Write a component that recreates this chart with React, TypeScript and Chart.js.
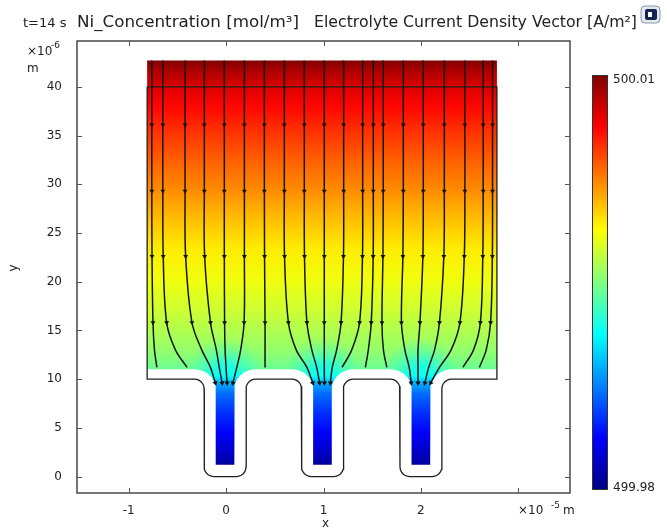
import React, { useEffect, useRef } from 'react';
import { Chart, registerables } from 'chart.js';

Chart.register(...registerables);

// ---------------- data ----------------
const timeLabel = 't=14 s';
const titleField = 'Ni_Concentration [mol/m\u00b3]';
const titleVector = 'Electrolyte Current Density Vector [A/m\u00b2]';

// concentration colour range (mol/m^3)
const concMin = 499.98;
const concMax = 500.01;

// concentration profile along the height (y in 1e-6 m)
const profileY = [1.2, 2.5, 4.5, 6.5, 8.5, 9.5, 10.3, 11, 13, 17, 20, 23.5, 26.5, 29.5, 32, 35, 38, 40, 41.5, 42.7];
const profileConc = [
  499.9809, 499.9821, 499.9836, 499.9851, 499.9869, 499.9887, 499.9914, 499.9944, 499.9956, 499.99725,
  499.9983, 499.99935, 500.0007, 500.0022, 500.00325, 500.0046, 500.0061, 500.0073, 500.0085, 500.01,
];
// concentration at the trench openings (cyan funnels)
const funnelConc = 499.9917;

// geometry (x in 1e-5 m, y in 1e-6 m)
const domainLeft = -0.81;
const domainRight = 2.78;
const domainTop = 42.7;
const inletLineY = 40;
const electrolyteBottom = 11;
const electrodeY = 10;
const trenchCenters = [-0.01, 0.99, 2.0];
const channelHalfWidth = 0.095;
const channelBottom = 1.2;
const trenchHalfWidth = 0.215;

// current density streamlines: x positions at each y level
const streamLevels = [42.7, 36.1, 29.3, 22.6, 15.8, 13.0, 11.2];
const arrowLevels = [36.1, 29.3, 22.6, 15.8];
const streamX = [
  [-0.762, -0.762, -0.762, -0.76, -0.75, -0.735, -0.71],
  [-0.649, -0.649, -0.649, -0.645, -0.61, -0.52, -0.4],
  [-0.421, -0.421, -0.421, -0.415, -0.35, -0.25, -0.16],
  [-0.223, -0.223, -0.223, -0.22, -0.16, -0.1, -0.07],
  [-0.018, -0.018, -0.018, -0.018, -0.015, -0.01, 0.0],
  [0.188, 0.188, 0.188, 0.188, 0.185, 0.15, 0.11],
  [0.393, 0.393, 0.393, 0.395, 0.4, 0.4, 0.4],
  [0.598, 0.598, 0.598, 0.6, 0.64, 0.72, 0.83],
  [0.803, 0.803, 0.803, 0.805, 0.83, 0.88, 0.93],
  [1.008, 1.008, 1.008, 1.008, 1.008, 1.008, 1.008],
  [1.207, 1.207, 1.207, 1.205, 1.18, 1.135, 1.09],
  [1.402, 1.402, 1.402, 1.4, 1.37, 1.29, 1.19],
  [1.511, 1.511, 1.511, 1.51, 1.49, 1.46, 1.43],
  [1.613, 1.613, 1.613, 1.61, 1.6, 1.615, 1.65],
  [1.819, 1.819, 1.819, 1.815, 1.8, 1.835, 1.88],
  [2.024, 2.024, 2.024, 2.02, 1.99, 1.97, 1.97],
  [2.24, 2.24, 2.24, 2.235, 2.19, 2.14, 2.08],
  [2.451, 2.451, 2.451, 2.445, 2.4, 2.31, 2.19],
  [2.639, 2.639, 2.639, 2.635, 2.61, 2.54, 2.43],
  [2.735, 2.735, 2.735, 2.733, 2.715, 2.67, 2.6],
];
const streamEntryX: (number | null)[] = [
  null, null, -0.11, -0.04, 0.01, 0.07, null, 0.89, 0.96, 1.01,
  1.07, null, null, null, 1.9, 1.97, 2.04, 2.1, null, null,
];
const streamEntryY = 9.6;

// axes
const xMin = -1.53;
const xMax = 3.53;
const yMin = -1.69;
const yMax = 44.7;

// ---------------- helpers ----------------
function clamp01(v: number) {
  return Math.max(0, Math.min(1, v));
}
function jet(t: number): [number, number, number] {
  const r = clamp01(Math.min(4 * t - 1.5, -4 * t + 4.5));
  const g = clamp01(Math.min(4 * t - 0.5, -4 * t + 3.5));
  const b = clamp01(Math.min(4 * t + 0.5, -4 * t + 2.5));
  return [r, g, b];
}
function concT(c: number) {
  return (c - concMin) / (concMax - concMin);
}
function rgba(t: number, a = 1) {
  const [r, g, b] = jet(t);
  return `rgba(${Math.round(r * 255)},${Math.round(g * 255)},${Math.round(b * 255)},${a})`;
}
type P = { x: number; y: number };
function arc(cx: number, cy: number, rx: number, ry: number, a0: number, a1: number, n = 10): P[] {
  const pts: P[] = [];
  for (let i = 0; i <= n; i++) {
    const a = ((a0 + ((a1 - a0) * i) / n) * Math.PI) / 180;
    pts.push({ x: cx + rx * Math.cos(a), y: cy + ry * Math.sin(a) });
  }
  return pts;
}

const flareRx = 0.22;
const flareRy = electrolyteBottom - (electrodeY - 1.0);
const cornerRx = 0.1;
const cornerRy = 1.0;

function buildDomain(): P[] {
  const pts: P[] = [
    { x: domainLeft, y: domainTop },
    { x: domainRight, y: domainTop },
    { x: domainRight, y: electrolyteBottom },
  ];
  const cs = [...trenchCenters].reverse();
  cs.forEach((xc) => {
    const cyF = electrolyteBottom - flareRy;
    pts.push(...arc(xc + channelHalfWidth + flareRx, cyF, flareRx, flareRy, 90, 180));
    pts.push({ x: xc + channelHalfWidth, y: channelBottom });
    pts.push({ x: xc - channelHalfWidth, y: channelBottom });
    pts.push(...arc(xc - channelHalfWidth - flareRx, cyF, flareRx, flareRy, 0, 90));
  });
  pts.push({ x: domainLeft, y: electrolyteBottom });
  pts.push({ x: domainLeft, y: domainTop });
  return pts;
}

function buildFunnel(xc: number): P[] {
  const cyF = electrolyteBottom - flareRy;
  const cut = 10.3;
  const a = (Math.asin((cut - cyF) / flareRy) * 180) / Math.PI;
  const pts: P[] = [
    { x: xc - 0.5, y: 15 },
    { x: xc - 0.5, y: electrolyteBottom },
  ];
  pts.push(...arc(xc - channelHalfWidth - flareRx, cyF, flareRx, flareRy, 90, a, 8));
  pts.push(...arc(xc + channelHalfWidth + flareRx, cyF, flareRx, flareRy, 180 - a, 90, 8));
  pts.push({ x: xc + 0.5, y: electrolyteBottom });
  pts.push({ x: xc + 0.5, y: 15 });
  pts.push({ x: xc - 0.5, y: 15 });
  return pts;
}

function buildOutline(): P[] {
  const pts: P[] = [
    { x: domainLeft, y: inletLineY },
    { x: domainLeft, y: electrodeY },
  ];
  trenchCenters.forEach((xc) => {
    const l = xc - trenchHalfWidth;
    const r = xc + trenchHalfWidth;
    pts.push(...arc(l - cornerRx, electrodeY - cornerRy, cornerRx, cornerRy, 90, 0, 6));
    pts.push(...arc(l + cornerRx, cornerRy, cornerRx, cornerRy, 180, 270, 6));
    pts.push(...arc(r - cornerRx, cornerRy, cornerRx, cornerRy, 270, 360, 6));
    pts.push(...arc(r + cornerRx, electrodeY - cornerRy, cornerRx, cornerRy, 180, 90, 6));
  });
  pts.push({ x: domainRight, y: electrodeY });
  pts.push({ x: domainRight, y: inletLineY });
  pts.push({ x: domainLeft, y: inletLineY });
  return pts;
}

const FONT = 'DejaVu Sans';

function fitText(ctx: CanvasRenderingContext2D, text: string, x: number, y: number, w: number) {
  const m = ctx.measureText(text).width;
  ctx.save();
  ctx.translate(x, y);
  ctx.scale(w / m, 1);
  ctx.fillText(text, 0, 0);
  ctx.restore();
}

const decorPlugin = {
  id: 'decor',
  afterDraw(chart: any) {
    const { ctx, chartArea: a, scales } = chart;
    const xs = scales.x;
    const ys = scales.y;
    ctx.save();
    // frame
    ctx.strokeStyle = '#3c3c3c';
    ctx.lineWidth = 1.4;
    ctx.strokeRect(a.left, a.top, a.right - a.left, a.bottom - a.top);
    // inward ticks
    ctx.lineWidth = 1;
    ctx.strokeStyle = '#555';
    ctx.beginPath();
    xs.ticks.forEach((t: any) => {
      const p = Math.round(xs.getPixelForValue(t.value)) + 0.5;
      ctx.moveTo(p, a.bottom);
      ctx.lineTo(p, a.bottom - 5);
      ctx.moveTo(p, a.top);
      ctx.lineTo(p, a.top + 5);
    });
    ys.ticks.forEach((t: any) => {
      const p = Math.round(ys.getPixelForValue(t.value)) + 0.5;
      ctx.moveTo(a.left, p);
      ctx.lineTo(a.left + 5, p);
      ctx.moveTo(a.right, p);
      ctx.lineTo(a.right - 5, p);
    });
    ctx.stroke();

    ctx.fillStyle = '#222';
    ctx.textBaseline = 'alphabetic';
    ctx.textAlign = 'left';
    // x unit label
    ctx.font = `12px "${FONT}"`;
    ctx.fillText('\u00d710', 518, 514);
    ctx.font = `9px "${FONT}"`;
    ctx.fillText('-5', 551, 508);
    ctx.font = `12px "${FONT}"`;
    ctx.fillText('m', 563, 514);
    // y unit label
    ctx.fillText('\u00d710', 27, 55);
    ctx.font = `9px "${FONT}"`;
    ctx.fillText('-6', 51, 48);
    ctx.font = `12px "${FONT}"`;
    ctx.fillText('m', 27, 72);
    // axis titles
    ctx.textAlign = 'center';
    ctx.fillText('x', (a.left + a.right) / 2 + 2, 527);
    ctx.save();
    ctx.translate(17, 268);
    ctx.rotate(-Math.PI / 2);
    ctx.fillText('y', 0, 0);
    ctx.restore();

    // title
    ctx.textAlign = 'left';
    ctx.font = `13px "${FONT}"`;
    ctx.fillText(timeLabel, 23, 27);
    ctx.font = `15px "${FONT}"`;
    fitText(ctx, titleField, 77, 27, 222);
    fitText(ctx, titleVector, 314, 27, 323);

    // icon
    ctx.fillStyle = '#e4e8f0';
    ctx.strokeStyle = '#8a94aa';
    ctx.beginPath();
    ctx.roundRect(641, 6, 19, 17, 4);
    ctx.fill();
    ctx.stroke();
    ctx.fillStyle = '#14224e';
    ctx.beginPath();
    ctx.roundRect(645, 9, 12, 11, 2);
    ctx.fill();
    ctx.fillStyle = '#ffffff';
    ctx.fillRect(648, 12, 4, 5);

    // colour bar
    const cbL = 592, cbR = 608, cbT = 75, cbB = 490;
    const g = ctx.createLinearGradient(0, cbB, 0, cbT);
    [0, 0.125, 0.375, 0.625, 0.875, 1].forEach((s) => g.addColorStop(s, rgba(s)));
    ctx.fillStyle = g;
    ctx.fillRect(cbL, cbT, cbR - cbL, cbB - cbT);
    ctx.strokeStyle = '#333';
    ctx.lineWidth = 1;
    ctx.strokeRect(cbL + 0.5, cbT + 0.5, cbR - cbL - 1, cbB - cbT - 1);
    ctx.fillStyle = '#222';
    ctx.font = `12px "${FONT}"`;
    ctx.textBaseline = 'middle';
    ctx.fillText(concMax.toFixed(2), 613, 80);
    ctx.fillText(concMin.toFixed(2), 613, 488);
    ctx.restore();
  },
};

export default function App() {
  const ref = useRef<HTMLCanvasElement | null>(null);

  useEffect(() => {
    if (!ref.current) return;
    const datasets: any[] = [];

    datasets.push({
      data: buildDomain(),
      fill: 'shape',
      borderColor: 'rgba(0,0,0,0)',
      borderWidth: 0,
      pointRadius: 0,
      tension: 0,
      order: 10,
      backgroundColor: (c: any) => {
        const ch = c.chart;
        const ys = ch.scales && ch.scales.y;
        if (!ch.chartArea || !ys) return 'rgba(0,0,0,0)';
        const y0 = profileY[0];
        const y1 = profileY[profileY.length - 1];
        const g = ch.ctx.createLinearGradient(0, ys.getPixelForValue(y0), 0, ys.getPixelForValue(y1));
        profileY.forEach((y, i) => g.addColorStop((y - y0) / (y1 - y0), rgba(concT(profileConc[i]))));
        return g;
      },
    });

    trenchCenters.forEach((xc) => {
      datasets.push({
        data: buildFunnel(xc),
        fill: 'shape',
        borderColor: 'rgba(0,0,0,0)',
        borderWidth: 0,
        pointRadius: 0,
        tension: 0,
        order: 9,
        backgroundColor: (c: any) => {
          const ch = c.chart;
          const xs = ch.scales && ch.scales.x;
          const ys = ch.scales && ch.scales.y;
          if (!ch.chartArea || !xs || !ys) return 'rgba(0,0,0,0)';
          const px = xs.getPixelForValue(xc);
          const py = ys.getPixelForValue(10.3);
          const g = ch.ctx.createRadialGradient(px, py, 0, px, py, 38);
          const t = concT(funnelConc);
          g.addColorStop(0, rgba(t, 1));
          g.addColorStop(0.3, rgba(t, 0.85));
          g.addColorStop(0.6, rgba(t, 0.35));
          g.addColorStop(1, rgba(t, 0));
          return g;
        },
      });
    });

    datasets.push({
      data: buildOutline(),
      fill: false,
      borderColor: '#1e1e1e',
      borderWidth: 1.3,
      pointRadius: 0,
      tension: 0,
      order: 5,
    });

    streamX.forEach((xsArr, i) => {
      const pts: P[] = xsArr.map((x, k) => ({ x, y: streamLevels[k] }));
      const entry = streamEntryX[i];
      if (entry !== null) pts.push({ x: entry, y: streamEntryY });
      const lastIdx = pts.length - 1;
      datasets.push({
        data: pts,
        fill: false,
        borderColor: '#161616',
        borderWidth: 1.5,
        tension: 0.35,
        order: 1,
        pointStyle: 'triangle',
        pointBackgroundColor: '#111',
        pointBorderColor: '#111',
        pointBorderWidth: 0,
        pointRadius: (c: any) => {
          const k = c.dataIndex;
          const p = pts[k];
          if (!p) return 0;
          if (arrowLevels.includes(p.y)) return 2.8;
          if (entry !== null && k === lastIdx) return 3;
          return 0;
        },
        pointRotation: (c: any) => {
          const k = c.dataIndex;
          if (!k) return 180;
          const ch = c.chart;
          const xs = ch.scales && ch.scales.x;
          const ys = ch.scales && ch.scales.y;
          if (!xs || !ys) return 180;
          const a = pts[k - 1];
          const b = pts[k];
          const dx = xs.getPixelForValue(b.x) - xs.getPixelForValue(a.x);
          const dy = ys.getPixelForValue(b.y) - ys.getPixelForValue(a.y);
          return (Math.atan2(dy, dx) * 180) / Math.PI + 90;
        },
      });
    });

    const chart = new Chart(ref.current, {
      type: 'line',
      data: { datasets },
      options: {
        animation: false,
        responsive: false,
        events: [],
        layout: { padding: { top: 41, right: 97, left: 0, bottom: 0 } },
        plugins: { legend: { display: false }, tooltip: { enabled: false } },
        scales: {
          x: {
            type: 'linear',
            min: xMin,
            max: xMax,
            afterFit: (s: any) => {
              s.height = 38;
            },
            grid: { display: false },
            border: { display: false },
            ticks: {
              stepSize: 1,
              includeBounds: false,
              autoSkip: false,
              maxRotation: 0,
              padding: 3,
              color: '#222',
              font: { family: FONT, size: 12 },
              callback: (v: any) => (Number(v) === 3 ? '' : String(v)),
            },
          },
          y: {
            type: 'linear',
            min: yMin,
            max: yMax,
            afterFit: (s: any) => {
              s.width = 77;
            },
            grid: { display: false },
            border: { display: false },
            ticks: {
              stepSize: 5,
              includeBounds: false,
              autoSkip: false,
              padding: 7,
              color: '#222',
              font: { family: FONT, size: 12 },
            },
          },
        },
      } as any,
      plugins: [decorPlugin],
    });
    return () => chart.destroy();
  }, []);

  return (
    <div style={{ position: 'fixed', left: 0, top: 0, width: 667, height: 531, background: '#fff' }}>
      <canvas ref={ref} width={667} height={531} style={{ display: 'block' }} />
    </div>
  );
}
